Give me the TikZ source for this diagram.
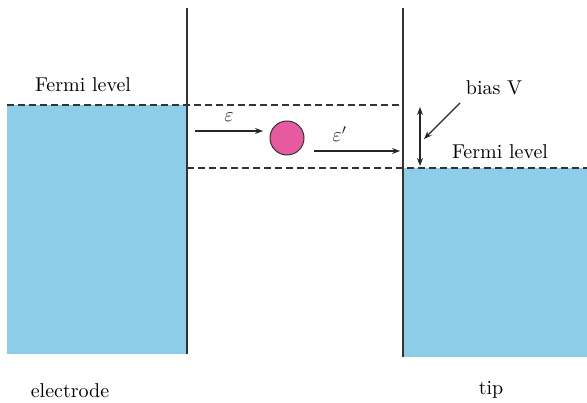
\documentclass[tikz,border=0pt]{standalone}
\usetikzlibrary{positioning, arrows.meta}
\definecolor{bandblue}{HTML}{8ECDE8}
\definecolor{dotpink}{HTML}{E75A9F}

\begin{document}
\begin{tikzpicture}[x=0.5pt, y=0.5pt, >={Stealth[length=4pt, width=3pt]},
		wall/.style={draw=black!80, line width=0.75pt},
		level/.style={draw=black!80, dash pattern=on 3.5pt off 2pt, line width=0.6pt},
		flow/.style={->, line width=0.55pt, black!85}]
			\useasboundingbox (0,0) rectangle (587,402);
			\fill[bandblue] (7,48) rectangle (187,297);
			\fill[bandblue] (403,45) rectangle (587,234);
			\draw[wall] (187,394) -- (187,48);
			\draw[wall] (403,394) -- (403,45);
			\draw[level] (7,297) -- (403,297);
			\draw[level] (187,234) -- (587,234);
			\node (dot) [circle, draw=black!80, fill=dotpink, line width=0.5pt, minimum size=17pt, inner sep=0pt] at (287,264) {};
			\coordinate (epsin) at (195,271);
			\coordinate (epsend) at (263,271);
			\coordinate (epsout) at (314,251);
			\coordinate (wallhit) at (400,251);
			\draw[flow] (epsin) -- node[above=1pt, pos=0.5] (eps) {$\varepsilon$} (epsend);
			\draw[flow] (epsout) -- node[above=1pt, pos=0.3] (epsp) {$\varepsilon'$} (wallhit);
			\coordinate (biastop) at (420,295);
			\coordinate (biasbot) at (420,236);
			\draw[flow, <->] (biastop) -- (biasbot);
			\node (bias) at (494,314) {bias\,\,V};
			\coordinate (biastail) at (460,299);
			\coordinate (biashead) at (424,263);
			\draw[flow] (biastail) -- (biashead);
			\node (fermiL) at (83,317) {Fermi level};
			\node (fermiR) at (500,250) {Fermi level};
			\node (electrode) at (70,11) {electrode};
			\node (tip) at (491,12) {tip};
		\end{tikzpicture}
\end{document}
